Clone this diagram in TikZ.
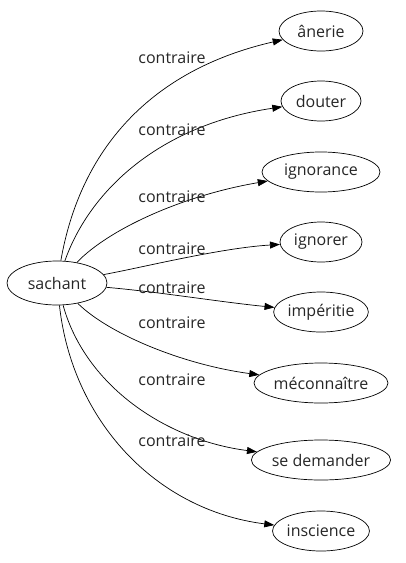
\documentclass[tikz,border=0pt]{standalone}
\usepackage{fontspec}
\setmainfont{Open Sans}
\usetikzlibrary{shapes.geometric,arrows.meta}
\begin{document}
\begin{tikzpicture}[x=1pt,y=-1pt,
  every node/.style={font=\fontsize{16}{18}\selectfont, text=black!85},
  nd/.style={draw, ellipse, inner sep=0pt, minimum height=40pt, line width=0.7pt},
  lbl/.style={inner sep=0pt},
  edge/.style={-{Triangle[length=10pt,width=7pt]}, line width=0.7pt}]
\useasboundingbox (0,0) rectangle (406,563);
\node[nd, minimum width=100pt, minimum height=44pt] (s) at (57,283) {sachant};
\node[nd, minimum width=84pt] (n1) at (321,31) {ânerie};
\node[nd, minimum width=80pt] (n2) at (321,101) {douter};
\node[nd, minimum width=118pt] (n3) at (321,172) {ignorance};
\node[nd, minimum width=82pt] (n4) at (321,242) {ignorer};
\node[nd, minimum width=94pt] (n5) at (321,312) {impéritie};
\node[nd, minimum width=134pt] (n6) at (321,383) {méconnaître};
\node[nd, minimum width=134pt] (n7) at (321,460) {se demander};
\node[nd, minimum width=94pt] (n8) at (321,531) {inscience};
\draw[edge] (s) .. controls (80,150) and (150,70) .. (n1);
\draw[edge] (s) .. controls (90,190) and (160,125) .. (n2);
\draw[edge] (s) .. controls (110,228) and (185,195) .. (n3);
\draw[edge] (s) .. controls (140,268) and (220,248) .. (n4);
\draw[edge] (s) .. controls (160,292) and (220,302) .. (n5);
\draw[edge] (s) .. controls (110,335) and (185,365) .. (n6);
\draw[edge] (s) .. controls (85,385) and (165,440) .. (n7);
\draw[edge] (s) .. controls (72,420) and (155,510) .. (n8);
\node[lbl] (l1) at (172,58) {contraire};
\node[lbl] (l2) at (172,130) {contraire};
\node[lbl] (l3) at (172,197) {contraire};
\node[lbl] (l4) at (172,249) {contraire};
\node[lbl] (l5) at (172,288) {contraire};
\node[lbl] (l6) at (172,323) {contraire};
\node[lbl] (l7) at (172,380) {contraire};
\node[lbl] (l8) at (172,441) {contraire};
\end{tikzpicture}
\end{document}
